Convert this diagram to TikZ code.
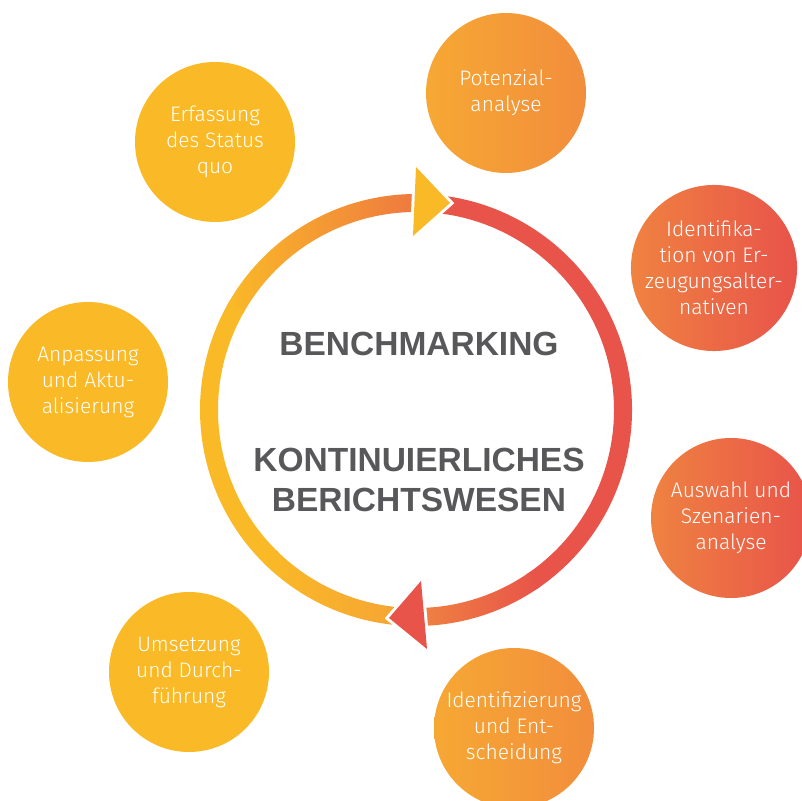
\documentclass[tikz,border=0pt]{standalone}
\usepackage{fontspec}
\setmainfont{Liberation Sans}
\newfontfamily\lightsans{Fira Sans Light}
\usepackage{tikz}
\usetikzlibrary{calc}
\definecolor{sunyellow}{HTML}{FAB927}
\definecolor{midorange}{HTML}{F6A834}
\definecolor{deeporange}{HTML}{F28D3C}
\definecolor{rustorange}{HTML}{EF8241}
\definecolor{burnt}{HTML}{EE7840}
\definecolor{coral}{HTML}{E8534A}
\definecolor{slate}{HTML}{58585A}
\tikzset{
  phase/.style={circle, minimum size=160pt, inner sep=0pt, text=white, align=center,
    font=\lightsans\fontsize{21}{26}\selectfont},
  warm/.style={phase, left color=midorange, right color=deeporange},
  hot/.style={phase, left color=rustorange, right color=coral},
  headline/.style={text=slate, align=center, font=\bfseries\fontsize{33.5}{40}\selectfont},
  tip/.style={fill=#1, preaction={draw=white, line width=6pt, line join=miter}}
}
% one piece of the ring between two angles
\newcommand{\ringpart}[3]{%
  \shade[#3] ($(hub)+(#1:216pt)$) arc[start angle=#1, end angle=#2, radius=216pt]
    -- ($(hub)+(#2:198pt)$) arc[start angle=#2, end angle=#1, radius=198pt] -- cycle;}

\begin{document}
\begin{tikzpicture}[x=1pt, y=1pt]
  \useasboundingbox (0,0) rectangle (802,800);
  \coordinate (hub) at (416,390);

  % cycle ring
  \ringpart{89}{151}{left color=sunyellow, middle color=midorange, right color=burnt}
  \ringpart{150}{226}{left color=sunyellow, right color=sunyellow}
  \ringpart{225}{269}{left color=sunyellow, right color=midorange!90!burnt}
  \ringpart{-56}{91}{left color=coral, right color=coral}
  \ringpart{-89}{-55}{left color=rustorange, right color=coral}

  % arrowheads on the ring
  \path[tip=sunyellow] (416,633) -- (450,597) -- (413,564) -- cycle;
  \path[tip=coral] (421,219) -- (389,182) -- (427,151) -- cycle;

  % centre text
  \node[headline] (bench) at (419,456) {BENCHMARKING};
  \node[headline] (berichte) at (419,320) {KONTINUIERLICHES\\BERICHTSWESEN};

  % phases
  \node[warm] (potenzial) at (506,707) {Potenzial-\\analyse};
  \node[hot] (erzeugung) at (714,532) {Identifika-\\tion von Er-\\zeugungsalter-\\nativen};
  \node[hot] (auswahl) at (731,282) {Auswahl und\\Szenarien-\\analyse};
  \node[warm] (entscheidung) at (514,72) {Identifizierung\\und Ent-\\scheidung};
  \node[phase, fill=sunyellow] (umsetzung) at (189,128) {Umsetzung\\und Durch-\\führung};
  \node[phase, fill=sunyellow] (anpassung) at (88,418) {Anpassung\\und Aktu-\\alisierung};
  \node[phase, fill=sunyellow] (erfassung) at (215,658) {Erfassung\\des Status\\quo};
\end{tikzpicture}
\end{document}
